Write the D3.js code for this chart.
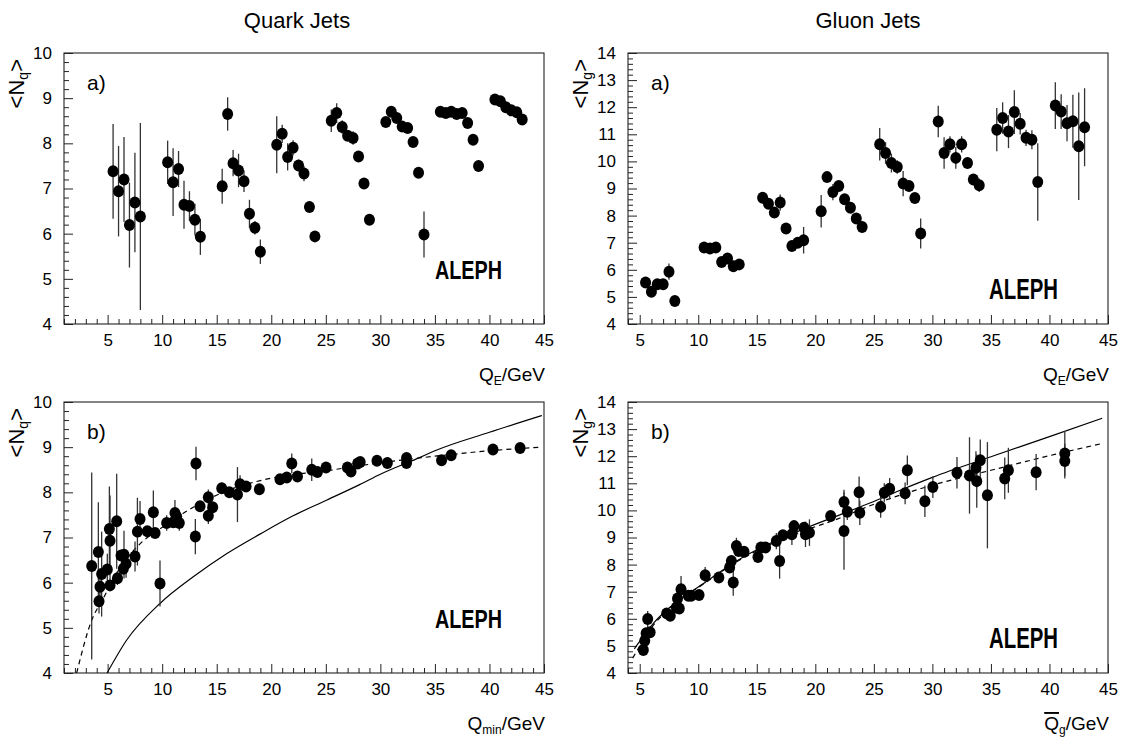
<!DOCTYPE html>
<html><head><meta charset="utf-8">
<script src="https://cdn.jsdelivr.net/npm/d3@7"></script>
<style>
body{margin:0;background:#fff}
svg{display:block}
text{font-family:"Liberation Sans",Arial,sans-serif;fill:#000}
</style>
</head><body>
<svg id="c" width="1121" height="741"></svg>
<script>
// ---------- data ----------
const titles = ["Quark Jets", "Gluon Jets"];

// panel a): bin centres (same for quark and gluon)
const aX = [5.5,6,6.5,7,7.5,8, 10.5,11,11.5,12,12.5,13,13.5, 15.5,16,16.5,17,17.5,18,18.5,19,
  20.5,21,21.5,22,22.5,23,23.5,24, 25.5,26,26.5,27,27.5,28,28.5,29, 30.5,31,31.5,32,32.5,33,33.5,34,
  35.5,36,36.5,37,37.5,38,38.5,39, 40.5,41,41.5,42,42.5,43];
const qaY = [7.38,6.94,7.2,6.19,6.69,6.38, 7.58,7.14,7.43,6.64,6.61,6.31,5.93, 7.05,8.65,7.56,7.4,7.16,6.44,6.13,5.6,
  7.97,8.21,7.7,7.9,7.51,7.33,6.59,5.94, 8.5,8.67,8.36,8.17,8.12,7.71,7.11,6.31, 8.47,8.7,8.56,8.37,8.34,8.03,7.35,5.98,
  8.7,8.67,8.7,8.65,8.67,8.45,8.08,7.5, 8.97,8.93,8.8,8.73,8.69,8.53];
const qaE = [1.05,1.0,0.94,0.94,1.1,2.07, 0.48,0.75,0.4,0.53,0.33,0.35,0.4, 0.39,0.37,0.29,0.37,0.24,0.31,0.15,0.27,
  0.63,0.2,0.3,0.17,0.13,0.17,0.1,0.08, 0.25,0.22,0.15,0.1,0.15,0.1,0.1,0.08, 0.1,0.1,0.08,0.08,0.08,0.08,0.1,0.51,
  0.08,0.08,0.06,0.06,0.06,0.08,0.08,0.12, 0.06,0.06,0.06,0.06,0.06,0.06];
const gaY = [5.53,5.19,5.47,5.47,5.93,4.85, 6.82,6.79,6.82,6.29,6.42,6.13,6.2, 8.66,8.44,8.11,8.48,7.52,6.88,7.0,7.09,
  8.16,9.42,8.87,9.09,8.6,8.29,7.89,7.58, 10.63,10.31,9.94,9.79,9.18,9.09,8.65,7.34, 11.47,10.31,10.63,10.13,10.63,9.94,9.33,9.12,
  11.17,11.6,11.1,11.82,11.39,10.87,10.8,9.24, 12.06,11.84,11.41,11.48,10.56,11.26];
const gaE = [0.1,0.1,0.1,0.1,0.3,0.1, 0.12,0.15,0.12,0.1,0.1,0.1,0.1, 0.2,0.15,0.15,0.3,0.1,0.15,0.15,0.49,
  0.6,0.1,0.3,0.2,0.15,0.15,0.15,0.2, 0.6,0.4,0.35,0.25,0.47,0.2,0.15,0.55, 0.58,0.58,0.3,0.4,0.3,0.2,0.2,0.25,
  0.8,0.58,0.61,0.81,0.4,0.3,0.35,1.43, 0.86,0.64,0.67,0.98,1.98,1.44];

// panel b) quark
const qbX = [3.54,4.15,4.21,4.3,4.45,4.97,5.16,5.22,5.22,5.83,5.9,6.23,6.5,6.44,6.69,7.51,7.73,7.97,8.64,9.19,9.35,9.8,
  10.41,11.02,11.17,11.33,11.57,13.1,13.04,13.47,14.23,14.23,14.63,15.46,16.16,16.9,17.14,17.69,18.91,20.8,21.42,21.88,
  22.4,23.71,24.23,25.02,26.98,27.31,27.92,28.15,29.69,30.64,32.4,32.4,35.61,36.49,40.32,42.81];
const qbY = [6.37,6.68,5.59,5.91,6.19,6.29,7.19,6.93,5.94,7.36,6.1,6.6,6.62,6.31,6.42,6.58,7.13,7.41,7.14,7.56,7.1,5.98,
  7.32,7.34,7.54,7.46,7.32,8.64,7.02,7.69,7.89,7.48,7.67,8.09,8.0,7.95,8.18,8.13,8.07,8.29,8.33,8.64,
  8.35,8.5,8.45,8.55,8.55,8.46,8.64,8.67,8.7,8.65,8.76,8.65,8.71,8.82,8.95,8.98];
const qbE = [2.07,1.1,0.27,0.4,0.94,0.35,0.94,1.0,0.1,1.05,0.15,0.1,0.53,0.1,0.31,0.33,0.75,0.4,0.1,0.48,0.1,0.51,
  0.17,0.1,0.29,0.13,0.17,0.37,0.39,0.1,0.17,0.18,0.1,0.12,0.1,0.61,0.2,0.1,0.1,0.08,0.1,0.22,
  0.1,0.25,0.08,0.08,0.08,0.12,0.08,0.08,0.06,0.06,0.08,0.08,0.06,0.06,0.06,0.06];
const qFitX = [4.95,6.75,9.8,12.85,15.9,19,22,25.1,28.1,30,33.7,35,40,44.8];
const qFitY = [4.0,4.73,5.54,6.13,6.64,7.08,7.48,7.83,8.17,8.4,8.78,8.92,9.33,9.7];
const qDashX = [2.16,3.54,4.6,5.8,7.97,9.8,12.85,15.9,19,22,25.1,28.1,35,40,44.8];
const qDashY = [4.0,5.17,5.65,6.2,6.86,7.19,7.67,8.03,8.26,8.39,8.48,8.59,8.8,8.92,9.0];

// panel b) gluon
const gbX = [5.31,5.43,5.55,5.68,5.89,7.3,7.61,8.13,8.23,8.38,8.53,9.15,9.4,10.07,10.59,11.76,12.68,12.83,12.99,13.26,13.45,
  13.91,15.1,15.35,15.75,16.67,16.95,17.23,18.0,18.18,19.04,19.16,19.5,21.31,22.45,22.45,22.73,23.74,23.8,25.58,25.89,
  26.35,27.67,27.86,29.36,30.04,32.1,33.17,33.72,33.79,34.09,34.7,36.18,36.49,38.86,41.31,41.31];
const gbY = [4.85,5.19,5.47,5.99,5.5,6.2,6.11,6.42,6.75,6.38,7.09,6.85,6.85,6.88,7.61,7.52,7.89,8.13,7.34,8.69,8.5,
  8.47,8.28,8.63,8.63,8.87,8.13,9.08,9.12,9.42,9.36,9.12,9.18,9.79,10.31,9.24,9.95,10.67,9.91,10.13,10.65,
  10.8,10.63,11.48,10.34,10.86,11.39,11.29,11.57,11.08,11.85,10.56,11.18,11.48,11.41,12.1,11.82];
const gbE = [0.1,0.1,0.1,0.3,0.1,0.15,0.1,0.15,0.15,0.15,0.49,0.1,0.1,0.15,0.3,0.1,0.15,0.2,0.49,0.3,0.2,
  0.15,0.2,0.2,0.15,0.3,0.65,0.2,0.4,0.1,0.15,0.47,0.49,0.2,0.45,1.43,0.3,0.58,0.45,0.4,0.35,
  0.4,0.4,0.55,0.58,0.4,0.58,1.41,0.61,0.98,0.77,1.96,0.77,0.83,0.67,0.83,0.64];
const gFitX = [4.54,6.24,7.67,10.51,13.35,16.19,19.03,21.87,24.72,27.56,30,35,40,44.5];
const gFitY = [4.89,5.87,6.46,7.32,8.15,8.8,9.32,9.8,10.28,10.8,11.22,11.98,12.72,13.4];
const gDashX = [4.4,6.24,7.67,10.51,13.35,16.19,19.03,21.87,24.72,28.98,30,35,40,44.5];
const gDashY = [4.55,5.8,6.42,7.3,8.12,8.75,9.25,9.68,10.18,10.8,10.93,11.48,12.02,12.47];

// ticks
const xTicks = [5,10,15,20,25,30,35,40,45];
const qyTicks = [4,5,6,7,8,9,10];
const gyTicks = [4,5,6,7,8,9,10,11,12,13,14];

// ---------- drawing ----------
const svg = d3.select("#c");
svg.append("rect").attr("width",1121).attr("height",741).attr("fill","#fff");

const FONT = '"Liberation Sans",Arial,sans-serif';

function yTitle(g, x, y, sub) {
  const t = g.append("text").attr("transform", `translate(${x},${y}) rotate(-90)`)
    .attr("text-anchor","end").attr("font-size",22);
  t.append("tspan").text("<N");
  t.append("tspan").attr("font-size",14).attr("dy",4).text(sub);
  t.append("tspan").attr("dy",-4).text(">");
}

function panel(o, idx) {
  const [x0,x1] = o.px, [y0,y1] = o.py;
  const x = d3.scaleLinear().domain(o.xd).range([x0,x1]);
  const y = d3.scaleLinear().domain(o.yd).range([y1,y0]);
  const g = svg.append("g");
  const cid = "clip"+idx;
  g.append("clipPath").attr("id",cid).append("rect")
    .attr("x",x0).attr("y",y0).attr("width",x1-x0).attr("height",y1-y0);

  const xMinor = d3.range(Math.ceil(o.xd[0]), o.xd[1]).filter(v => v % 5 !== 0);
  const yMinor = d3.range(o.yd[0]*5, o.yd[1]*5).map(v => v/5).filter(v => Math.abs(v-Math.round(v))>1e-6);

  const style = sel => { sel.select(".domain").remove();
    sel.attr("font-family",FONT).attr("font-size",17);
    sel.selectAll("line").attr("stroke","#222"); };

  g.append("g").attr("transform",`translate(0,${y1})`)
    .call(d3.axisBottom(x).tickValues(xMinor).tickSize(-5).tickFormat("")).call(style);
  g.append("g").attr("transform",`translate(0,${y1})`)
    .call(d3.axisBottom(x).tickValues(xTicks).tickSize(-9).tickPadding(10).tickFormat(d3.format("d"))).call(style);
  g.append("g").attr("transform",`translate(${x0},0)`)
    .call(d3.axisLeft(y).tickValues(yMinor).tickSize(-5).tickFormat("")).call(style);
  g.append("g").attr("transform",`translate(${x0},0)`)
    .call(d3.axisLeft(y).tickValues(o.yt).tickSize(-9).tickPadding(12).tickFormat(d3.format("d"))).call(style);

  g.append("rect").attr("x",x0).attr("y",y0).attr("width",x1-x0).attr("height",y1-y0)
    .attr("fill","none").attr("stroke","#222").attr("stroke-width",1.1);

  const line = d3.line().x(d=>x(d[0])).y(d=>y(d[1])).curve(d3.curveMonotoneX);
  (o.curves||[]).forEach(c => {
    g.append("path").attr("clip-path",`url(#${cid})`)
      .attr("d", line(d3.zip(c.x, c.y)))
      .attr("fill","none").attr("stroke","#000").attr("stroke-width",1.2)
      .attr("stroke-dasharray", c.dash ? "5,4" : null);
  });

  const pts = d3.zip(o.x, o.y, o.e);
  g.append("g").selectAll("line").data(pts).join("line")
    .attr("x1",d=>x(d[0])).attr("x2",d=>x(d[0]))
    .attr("y1",d=>y(d[1]-d[2])).attr("y2",d=>y(d[1]+d[2]))
    .attr("stroke","#333").attr("stroke-width",1.3);
  g.append("g").selectAll("ellipse").data(pts).join("ellipse")
    .attr("cx",d=>x(d[0])).attr("cy",d=>y(d[1])).attr("rx",5.5).attr("ry",6).attr("fill","#000");

  g.append("text").attr("x",x0+23).attr("y",y0+37).attr("font-size",21).text(o.tag);
  g.append("text").attr("x",o.aleph[0]).attr("y",o.aleph[1]).attr("font-size",o.aleph[2])
    .attr("font-weight","bold").attr("textLength",o.aleph[3]).attr("lengthAdjust","spacingAndGlyphs").text("ALEPH");
  yTitle(g, x0 - 40, y0 + 6, o.sub);

  const xt = g.append("text").attr("x",x1+1).attr("y",y1+57).attr("text-anchor","end").attr("font-size",19);
  const q = xt.append("tspan").text("Q");
  if (o.overline) q.style("text-decoration","overline");
  xt.append("tspan").attr("font-size",12).attr("dy",4).text(o.xsub);
  xt.append("tspan").attr("dy",-4).text("/GeV");
}

const L = [64,544], R = [628,1108], T = [53,324], B = [402,673];

panel({px:L, py:T, xd:[1,45], yd:[4,10], yt:qyTicks, x:aX, y:qaY, e:qaE, tag:"a)", sub:"q",
  xsub:"E", aleph:[435, 279, 26, 67]}, 0);
panel({px:R, py:T, xd:[4,45], yd:[4,14], yt:gyTicks, x:aX, y:gaY, e:gaE, tag:"a)", sub:"g",
  xsub:"E", aleph:[989, 299, 29, 69]}, 1);
panel({px:L, py:B, xd:[1,45], yd:[4,10], yt:qyTicks, x:qbX, y:qbY, e:qbE, tag:"b)", sub:"q",
  xsub:"min", aleph:[435, 628, 26, 67],
  curves:[{x:qFitX, y:qFitY}, {x:qDashX, y:qDashY, dash:true}]}, 2);
panel({px:R, py:B, xd:[4,45], yd:[4,14], yt:gyTicks, x:gbX, y:gbY, e:gbE, tag:"b)", sub:"g",
  xsub:"g", overline:true, aleph:[989, 648, 29, 69],
  curves:[{x:gFitX, y:gFitY}, {x:gDashX, y:gDashY, dash:true}]}, 3);

svg.append("text").attr("x",297).attr("y",28).attr("text-anchor","middle").attr("font-size",22).text(titles[0]);
svg.append("text").attr("x",868).attr("y",28).attr("text-anchor","middle").attr("font-size",22).text(titles[1]);
</script>
</body></html>
